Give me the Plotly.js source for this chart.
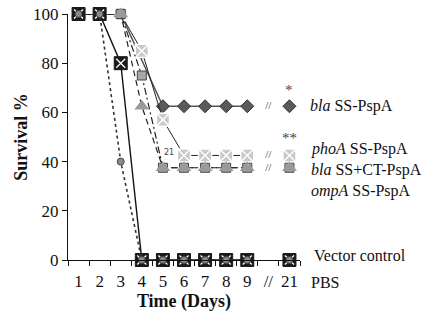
<!DOCTYPE html>
<html>
<head>
<meta charset="utf-8">
<script src="https://cdn.plot.ly/plotly-3.0.1.min.js"></script>
<style>html,body{margin:0;padding:0;background:#fff;}#chart{width:435px;height:326px;}</style>
</head>
<body>
<div id="chart"></div>
<script>
// Tick labels / categories of the x axis
const categories = ['1','2','3','4','5','6','7','8','9','//','21'];
// Days 1..9 (connected) and day 21 (after the break)
const days = ['1','2','3','4','5','6','7','8','9'];
const lateDay = ['21'];

// Survival % per series, days 1..9 (null = not plotted)
const blaSS      = [100,100,100,null,62.5,62.5,62.5,62.5,62.5];
const blaSS21    = [62.5];
const phoA       = [100,100,100,85,57,42.5,42.5,42.5,42.5];
const phoA21     = [42.5];
const ompA       = [100,100,100,75,37.5,37.5,37.5,37.5,37.5];
const ompA21     = [37.5];
const blaSSCT    = [100,100,100,62.5,37.5,37.5,37.5,37.5,37.5];
const blaSSCT21  = [37.5];
const vector     = [100,100,80,0,0,0,0,0,0];
const vector21   = [0];
const pbs        = [100,100,40,0,0,0,0,0,0];
const pbs21      = [0];

const breakMarks = ['//','//','//'];
const breakLevels = [62.5,42.5,37.5];

const serif = 'Liberation Serif, Times New Roman, serif';

function series(y, y21, line, marker) {
  return [
    {x: days, y: y, type:'scatter', mode:'lines+markers', connectgaps:true,
     line: line, marker: marker, cliponaxis:false, showlegend:false, hoverinfo:'skip'},
    {x: lateDay, y: y21, type:'scatter', mode:'markers',
     marker: marker, cliponaxis:false, showlegend:false, hoverinfo:'skip'}
  ];
}

const starMarker = {symbol:'x-thin-open', size:9, color:'#ffffff', line:{color:'#ffffff', width:1.3}};

const traces = [].concat(
  series(blaSS, blaSS21, {color:'#555', width:1.5},
         {symbol:'diamond', size:10, color:'#5a5a5a', line:{color:'#333', width:1}}),
  series(phoA, phoA21, {color:'#222', width:1},
         {symbol:'square-x', size:13, color:'#c9c9c9', line:{color:'#ffffff', width:1.4}}),
  series(ompA, ompA21, {color:'#222', width:1.2, dash:'7px,3px,2px,3px'},
         {symbol:'square', size:9, color:'#a8a8a8', line:{color:'#444', width:1}}),
  series(blaSSCT, blaSSCT21, {color:'#222', width:1.2, dash:'6px,4px'},
         {symbol:'triangle-up', size:13, color:'#9a9a9a', line:{width:0}}),
  series(vector, vector21, {color:'#111', width:1.4},
         {symbol:'square', size:13, color:'#1a1a1a', line:{color:'#1a1a1a', width:1}}),
  [{x: days, y: vector, type:'scatter', mode:'markers', cliponaxis:false, showlegend:false,
    hoverinfo:'skip', marker: starMarker},
   {x: lateDay, y: vector21, type:'scatter', mode:'markers', cliponaxis:false, showlegend:false,
    hoverinfo:'skip', marker: starMarker}],
  series(pbs, pbs21, {color:'#333', width:1.6, dash:'dot'},
         {symbol:'circle', size:7, color:'#8a8a8a', line:{color:'#444', width:1}}),
  [{x: breakMarks, y: breakLevels, type:'scatter', mode:'text', text: breakMarks,
    textfont:{family:serif, size:11, color:'#333'}, cliponaxis:false, showlegend:false, hoverinfo:'skip'}]
);

const idx21 = categories.indexOf('21');
const idx5 = categories.indexOf('5');

const labelFont = {family: serif, size: 16, color:'#111'};
const annotations = [
  {xref:'paper', yref:'y', x:1.034, y:62.5, xanchor:'left', yanchor:'middle', showarrow:false,
   text:'<i>bla</i> SS-PspA', font:labelFont},
  {xref:'paper', yref:'y', x:1.04, y:45, xanchor:'left', yanchor:'middle', showarrow:false,
   text:'<i>phoA</i> SS-PspA', font:labelFont},
  {xref:'paper', yref:'y', x:1.04, y:36.7, xanchor:'left', yanchor:'middle', showarrow:false,
   text:'<i>bla</i> SS+CT-PspA', font:labelFont},
  {xref:'paper', yref:'y', x:1.04, y:28.2, xanchor:'left', yanchor:'middle', showarrow:false,
   text:'<i>ompA</i> SS-PspA', font:labelFont},
  {xref:'paper', yref:'paper', x:1.052, y:0.02, xanchor:'left', yanchor:'middle', showarrow:false,
   text:'Vector control', font:labelFont},
  {xref:'paper', yref:'paper', x:1.04, y:-0.093, xanchor:'left', yanchor:'middle', showarrow:false,
   text:'PBS', font:labelFont},
  {xref:'x', yref:'y', x:idx21, y:69, showarrow:false, text:'*',
   font:{family:serif, size:15, color:'#444'}},
  {xref:'x', yref:'y', x:idx21, y:49.6, showarrow:false, text:'**',
   font:{family:serif, size:15, color:'#444'}},
  {xref:'x', yref:'y', x:idx5, y:43.5, xshift:6, showarrow:false, text:'21',
   font:{family:'DejaVu Sans, sans-serif', size:8, color:'#444'}}
];

const layout = {
  width:435, height:326,
  margin:{l:68, r:135, t:14, b:66, pad:0},
  paper_bgcolor:'#fff', plot_bgcolor:'#fff',
  showlegend:false,
  font:{family: serif, color:'#111'},
  xaxis:{
    type:'category', categoryorder:'array', categoryarray: categories,
    range:[-0.5, 10.5], tickson:'boundaries', ticks:'outside', ticklen:5, tickwidth:1,
    tickangle:0, ticklabelstandoff:6,
    tickcolor:'#111', showline:true, linecolor:'#111', linewidth:1, showgrid:false,
    zeroline:false, tickfont:{family:serif, size:17, color:'#111'}, automargin:false,
    title:{text:'<b>Time (Days)</b>', font:{family:serif, size:18, color:'#111'}, standoff:0}
  },
  yaxis:{
    range:[0,100], tickvals:[0,20,40,60,80,100], ticks:'outside', ticklen:5, tickwidth:1,
    tickcolor:'#111', showline:true, linecolor:'#111', linewidth:1, showgrid:false,
    zeroline:false, tickfont:{family:serif, size:17, color:'#111'}, automargin:false,
    title:{text:'<b>Survival %</b>', font:{family:serif, size:18, color:'#111'}, standoff:0}
  },
  annotations: annotations
};

Plotly.newPlot('chart', traces, layout, {staticPlot:true, displayModeBar:false});
</script>
</body>
</html>
